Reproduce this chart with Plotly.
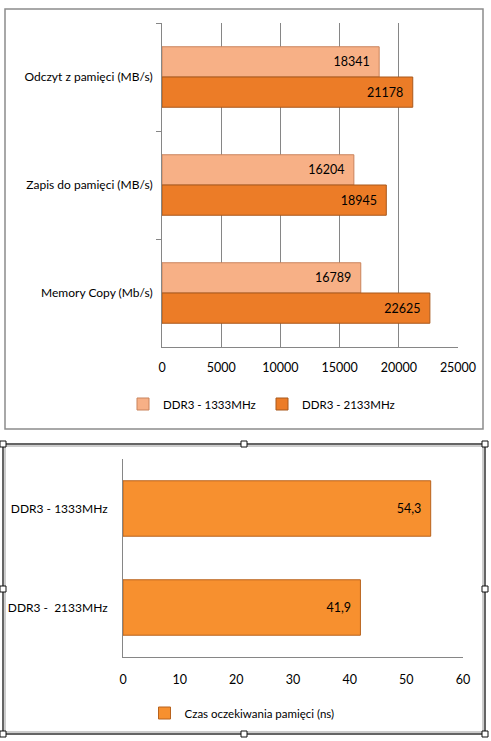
import plotly.graph_objects as go

W, H = 491, 741

# top chart: throughput
tests = ["Odczyt z pamięci (MB/s)", "Zapis do pamięci (MB/s)", "Memory Copy (Mb/s)"]
ddr3_1333 = [18341, 16204, 16789]
ddr3_2133 = [21178, 18945, 22625]

# bottom chart: latency
modules = ["DDR3 - 1333MHz", "DDR3 -  2133MHz"]
latency_ns = [54.3, 41.9]

FONT = "Lato"
GRID = "#868686"
PAD = "\u00a0\u00a0"


def px(x, y):
    return x / W, 1 - y / H


fig = go.Figure()

fig.add_trace(go.Bar(y=tests, x=ddr3_1333, orientation="h", name="DDR3 - 1333MHz",
                     marker=dict(color="#F7B086", line=dict(color="#C9835C", width=1)),
                     text=[str(v) + PAD for v in ddr3_1333], textposition="inside",
                     insidetextanchor="end", textfont=dict(color="#000", size=12.5),
                     xaxis="x", yaxis="y", legend="legend"))
fig.add_trace(go.Bar(y=tests, x=ddr3_2133, orientation="h", name="DDR3 - 2133MHz",
                     marker=dict(color="#EC7C27", line=dict(color="#A8581C", width=1)),
                     text=[str(v) + PAD for v in ddr3_2133], textposition="inside",
                     insidetextanchor="end", textfont=dict(color="#000", size=12.5),
                     xaxis="x", yaxis="y", legend="legend"))

fig.add_trace(go.Bar(y=modules, x=latency_ns, orientation="h",
                     name="Czas oczekiwania pamięci (ns)",
                     marker=dict(color="#F7902F", line=dict(color="#B8631E", width=1)),
                     text=[str(v).replace(".", ",") + PAD for v in latency_ns],
                     textposition="inside", insidetextanchor="end",
                     textfont=dict(color="#000", size=12.5),
                     xaxis="x2", yaxis="y2", legend="legend2"))

x0, y1 = px(162, 23)
x1, y0 = px(458, 347)
bx0, by1 = px(123, 459)
bx1, by0 = px(463, 657)

fig.update_layout(
    width=W, height=H,
    margin=dict(l=0, r=0, t=0, b=0, autoexpand=False),
    paper_bgcolor="white", plot_bgcolor="white",
    font=dict(family=FONT, size=12.5, color="#000"),
    barmode="group", bargap=0.44, bargroupgap=0,
    xaxis=dict(domain=[x0, x1], range=[0, 25000], dtick=5000, tickformat="d",
               showgrid=True, gridcolor=GRID, gridwidth=1, showline=True,
               linecolor=GRID, zeroline=False, ticks="", ticklabelstandoff=9,
               anchor="y", fixedrange=True, automargin=False),
    yaxis=dict(domain=[y0, y1], autorange="reversed", showline=True, linecolor=GRID,
               ticks="outside", tickson="boundaries", ticklen=5, tickcolor=GRID,
               ticklabelstandoff=6, tickfont=dict(size=12), anchor="x",
               showgrid=False, fixedrange=True, automargin=False),
    xaxis2=dict(domain=[bx0, bx1], range=[0, 60], dtick=10, showgrid=False,
                showline=True, linecolor=GRID, zeroline=False, ticks="",
                ticklabelstandoff=11, anchor="y2", fixedrange=True, automargin=False),
    yaxis2=dict(domain=[by0, by1], autorange="reversed", showline=True, linecolor=GRID,
                ticks="", ticklabelstandoff=12, tickfont=dict(size=12), anchor="x2",
                showgrid=False, fixedrange=True, automargin=False),
    legend=dict(orientation="h", x=px(262, 0)[0], xanchor="center",
                y=px(0, 404)[1], yanchor="middle", font=dict(size=11.5),
                itemwidth=30, entrywidth=94),
    legend2=dict(orientation="h", x=px(242, 0)[0], xanchor="center",
                 y=px(0, 713)[1], yanchor="middle", font=dict(size=11.5),
                 itemwidth=30),
    showlegend=True,
)

# chart frames
fx0, fy1 = px(5, 9)
fx1, fy0 = px(483, 429)
fig.add_shape(type="rect", xref="paper", yref="paper", x0=fx0, x1=fx1, y0=fy0, y1=fy1,
              line=dict(color="#8c8c8c", width=1.5))
gx0, gy1 = px(3, 444)
gx1, gy0 = px(485, 734)
fig.add_shape(type="rect", xref="paper", yref="paper", x0=gx0, x1=gx1, y0=gy0, y1=gy1,
              line=dict(color="#333", width=1.5))
ix0, iy1 = px(5, 446)
ix1, iy0 = px(483, 732)
fig.add_shape(type="rect", xref="paper", yref="paper", x0=ix0, x1=ix1, y0=iy0, y1=iy1,
              line=dict(color="#9a9a9a", width=1))

# selection handles on the bottom chart
hs = 3
for hx in (3, 244, 485):
    for hy in (444, 589, 734):
        if hx == 244 and hy == 589:
            continue
        ax0, ay1 = px(hx - hs, hy - hs)
        ax1, ay0 = px(hx + hs, hy + hs)
        fig.add_shape(type="rect", xref="paper", yref="paper", x0=ax0, x1=ax1,
                      y0=ay0, y1=ay1, fillcolor="white",
                      line=dict(color="#111", width=1))

fig.write_html("out.html",
               config={"responsive": False, "displayModeBar": False},
               post_script="document.body.style.margin='0';"
                           "document.body.style.overflow='hidden';")
